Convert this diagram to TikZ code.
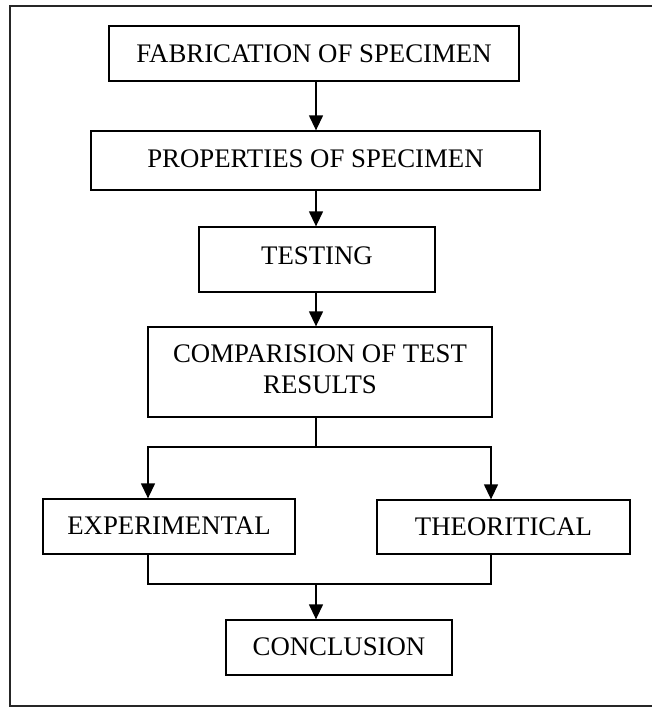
\documentclass[tikz,border=0pt]{standalone}
\usepackage{fontspec}
\setmainfont{Liberation Serif}
\usetikzlibrary{arrows.meta}
\begin{document}
\begin{tikzpicture}[x=1pt,y=-1pt,
  boxnode/.style={draw=black, line width=1.3pt, rectangle, inner sep=2pt, align=center,
    font=\fontsize{26.8pt}{31pt}\selectfont},
  conn/.style={line width=1.3pt},
  arr/.style={conn, -{Triangle[width=14pt,length=15pt]}}]
\useasboundingbox (0,0) rectangle (652,707);
% frame (no right edge visible)
\draw[line width=1.8pt, color=black!85] (652,6) -- (10,6) -- (10,706) -- (652,706);

\node[boxnode, minimum width=410pt, minimum height=55pt] (fab) at (314,53.5) {FABRICATION OF SPECIMEN};
\node[boxnode, minimum width=449pt, minimum height=59pt] (prop) at (315.5,160.5) {\raisebox{3pt}{PROPERTIES OF SPECIMEN}};
\node[boxnode, minimum width=236pt, minimum height=65pt] (test) at (317,259.5) {\raisebox{7.5pt}{TESTING}};
\node[boxnode, minimum width=344pt, minimum height=90pt] (comp) at (320,372) {\raisebox{6.5pt}{\begin{tabular}{@{}c@{}}COMPARISION OF TEST\\RESULTS\end{tabular}}};
\node[boxnode, minimum width=252pt, minimum height=55pt] (exp) at (169,526.5) {\raisebox{1.5pt}{EXPERIMENTAL}};
\node[boxnode, minimum width=253pt, minimum height=54pt] (theo) at (503.5,527) {\raisebox{1.5pt}{THEORITICAL}};
\node[boxnode, minimum width=226pt, minimum height=55pt] (conc) at (339,647.5) {\raisebox{1.5pt}{CONCLUSION}};

\coordinate (ax) at (316,0);
\coordinate (br) at (316,447);
\coordinate (bl) at (148,447);
\coordinate (bR) at (491,447);
\coordinate (jn) at (316,584);

\draw[arr] (fab.south -| ax) -- (prop.north -| ax);
\draw[arr] (prop.south -| ax) -- (test.north -| ax);
\draw[arr] (test.south -| ax) -- (comp.north -| ax);
\draw[conn] (comp.south -| ax) -- (br);
\draw[arr] (br) -- (bl) -- (exp.north -| bl);
\draw[arr] (br) -- (bR) -- (theo.north -| bR);
\draw[conn] (exp.south -| bl) |- (jn);
\draw[conn] (theo.south -| bR) |- (jn);
\draw[arr] (jn) -- (conc.north -| ax);
\end{tikzpicture}
\end{document}
